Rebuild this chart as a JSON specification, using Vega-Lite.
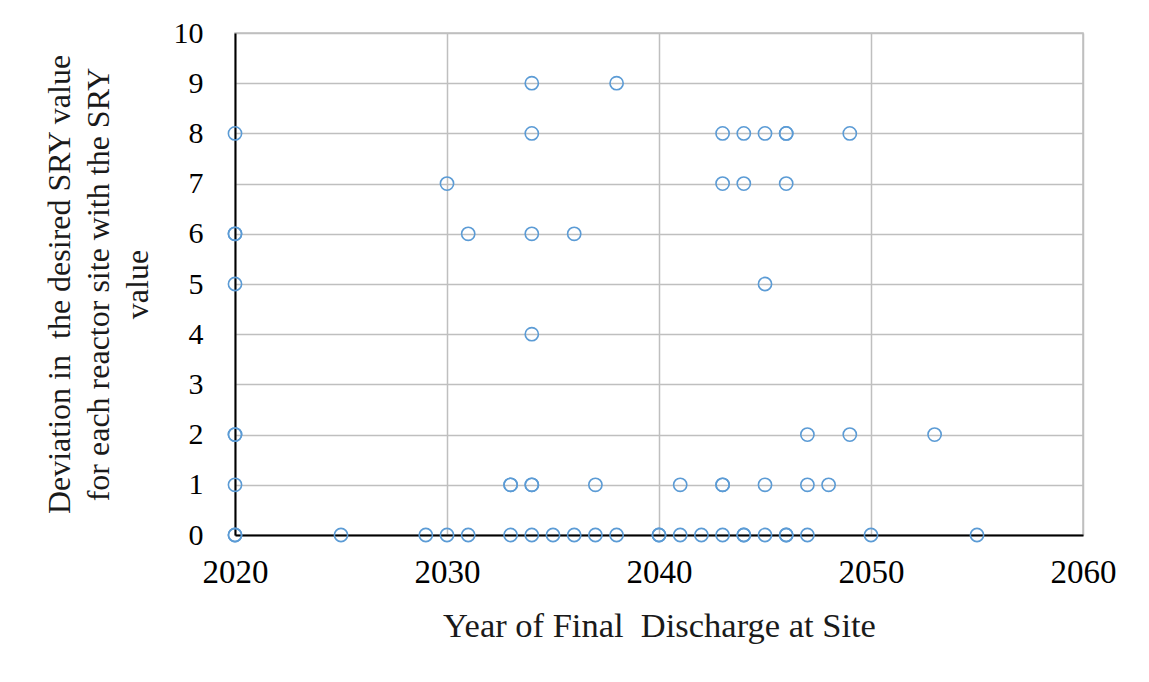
{
  "$schema": "https://vega.github.io/schema/vega-lite/v6.json",
  "autosize": "none",
  "width": 848,
  "height": 502,
  "padding": {"left": 235, "top": 33, "right": 66, "bottom": 147},
  "background": "white",
  "data": {
    "values": [
      {"year": 2020, "dev": 0}, {"year": 2020, "dev": 0}, {"year": 2025, "dev": 0}, {"year": 2029, "dev": 0},
      {"year": 2030, "dev": 0}, {"year": 2031, "dev": 0}, {"year": 2033, "dev": 0}, {"year": 2034, "dev": 0},
      {"year": 2035, "dev": 0}, {"year": 2036, "dev": 0}, {"year": 2037, "dev": 0}, {"year": 2038, "dev": 0},
      {"year": 2040, "dev": 0}, {"year": 2040, "dev": 0}, {"year": 2041, "dev": 0}, {"year": 2042, "dev": 0},
      {"year": 2043, "dev": 0}, {"year": 2044, "dev": 0}, {"year": 2044, "dev": 0}, {"year": 2045, "dev": 0},
      {"year": 2046, "dev": 0}, {"year": 2046, "dev": 0}, {"year": 2047, "dev": 0}, {"year": 2050, "dev": 0},
      {"year": 2055, "dev": 0},
      {"year": 2020, "dev": 1}, {"year": 2033, "dev": 1}, {"year": 2033, "dev": 1}, {"year": 2034, "dev": 1},
      {"year": 2034, "dev": 1}, {"year": 2037, "dev": 1}, {"year": 2041, "dev": 1}, {"year": 2043, "dev": 1},
      {"year": 2043, "dev": 1}, {"year": 2045, "dev": 1}, {"year": 2047, "dev": 1}, {"year": 2048, "dev": 1},
      {"year": 2020, "dev": 2}, {"year": 2020, "dev": 2}, {"year": 2047, "dev": 2}, {"year": 2049, "dev": 2},
      {"year": 2053, "dev": 2},
      {"year": 2034, "dev": 4},
      {"year": 2020, "dev": 5}, {"year": 2045, "dev": 5},
      {"year": 2020, "dev": 6}, {"year": 2020, "dev": 6}, {"year": 2031, "dev": 6}, {"year": 2034, "dev": 6},
      {"year": 2036, "dev": 6},
      {"year": 2030, "dev": 7}, {"year": 2043, "dev": 7}, {"year": 2044, "dev": 7}, {"year": 2046, "dev": 7},
      {"year": 2020, "dev": 8}, {"year": 2034, "dev": 8}, {"year": 2043, "dev": 8}, {"year": 2044, "dev": 8},
      {"year": 2045, "dev": 8}, {"year": 2046, "dev": 8}, {"year": 2046, "dev": 8}, {"year": 2049, "dev": 8},
      {"year": 2034, "dev": 9}, {"year": 2038, "dev": 9}
    ]
  },
  "mark": {"type": "point", "shape": "circle", "filled": false, "size": 175, "strokeWidth": 1.6, "color": "#5B9BD5", "opacity": 1},
  "encoding": {
    "x": {
      "field": "year", "type": "quantitative",
      "scale": {"domain": [2020, 2060], "nice": false, "zero": false},
      "axis": {
        "values": [2020, 2030, 2040, 2050, 2060], "format": "d",
        "title": "Year of Final\u00a0 Discharge at Site",
        "ticks": false, "domainColor": "#000000", "domainWidth": 2,
        "gridColor": "#BFBFBF", "gridWidth": 1.5,
        "labelFlush": false, "labelOverlap": false,
        "labelPadding": 21, "titlePadding": 20, "labelFontSize": 33, "titleFontSize": 34.5
      }
    },
    "y": {
      "field": "dev", "type": "quantitative",
      "scale": {"domain": [0, 10], "nice": false},
      "axis": {
        "values": [0, 1, 2, 3, 4, 5, 6, 7, 8, 9, 10],
        "title": ["Deviation in\u00a0 the desired SRY value", "for each reactor site with the SRY", "value"],
        "ticks": false, "domainColor": "#000000", "domainWidth": 2,
        "gridColor": "#BFBFBF", "gridWidth": 1.5,
        "labelFlush": false, "labelOverlap": false,
        "labelPadding": 32, "titlePadding": 19, "titleLineHeight": 39, "labelFontSize": 30, "titleFontSize": 32
      }
    }
  },
  "config": {
    "view": {"stroke": "#BFBFBF", "strokeWidth": 1.5},
    "axis": {
      "labelFont": "Liberation Serif", "labelColor": "#000000",
      "titleFont": "Liberation Serif", "titleFontWeight": "normal", "titleColor": "#1a1a1a"
    }
  }
}
